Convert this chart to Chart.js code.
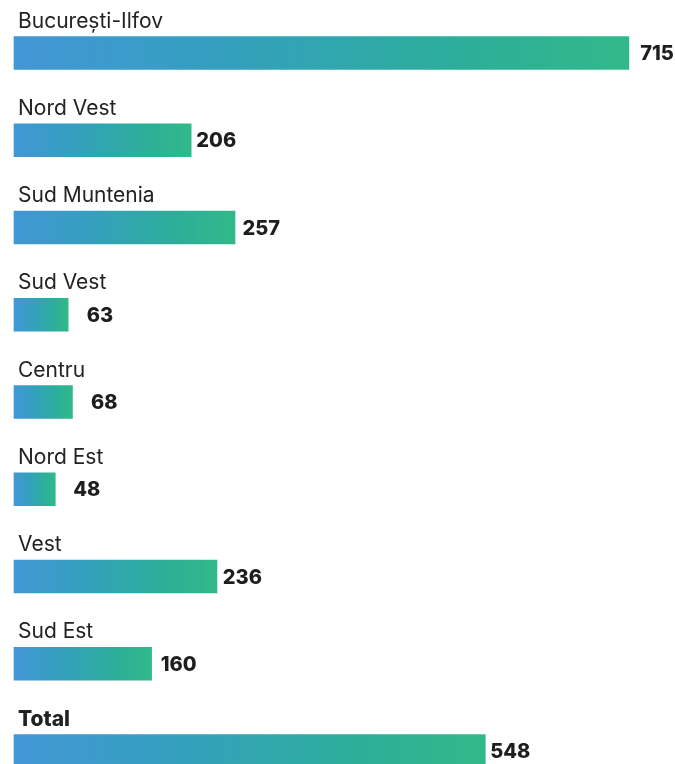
<!DOCTYPE html>
<html>
<head>
<meta charset="utf-8">
<script src="https://cdn.jsdelivr.net/npm/chart.js@4"></script>
<style>
    body { margin: 0; background: #ffffff; }
    canvas { display: block; }
</style>
</head>
<body>
<canvas id="chartRegions" width="675" height="764"></canvas>
<script>
// Regions and their values
var regions = ['București-Ilfov', 'Nord Vest', 'Sud Muntenia', 'Sud Vest', 'Centru', 'Nord Est', 'Vest', 'Sud Est', 'Total'];
var values = [715, 206, 257, 63, 68, 48, 236, 160, 548];

var labelFont = '"Inter", "Open Sans", sans-serif';

// Draws the region name above each bar and the value after it
var labelsPlugin = {
    id: 'labelsPlugin',
    afterDatasetsDraw: function(chart) {
        var ctx = chart.ctx;
        var meta = chart.getDatasetMeta(0);
        ctx.save();
        meta.data.forEach(function(bar, i) {
            var top = bar.y - bar.height / 2;
            ctx.fillStyle = '#222222';
            ctx.textAlign = 'left';
            ctx.textBaseline = 'alphabetic';
            ctx.font = (regions[i] === 'Total' ? '800 ' : '400 ') + '21px ' + labelFont;
            ctx.fillText(regions[i], 18, top - 9);

            ctx.fillStyle = '#1e1e1e';
            ctx.textAlign = 'right';
            ctx.textBaseline = 'middle';
            ctx.font = '800 20px ' + labelFont;
            ctx.fillText(values[i], bar.x + 45, bar.y + 1);
        });
        ctx.restore();
    }
};

var chartCanvas = document.querySelector('#chartRegions').getContext('2d');
var chart = new Chart(chartCanvas, {
    type: 'bar',
    data: {
        labels: regions,
        datasets: [{
            data: values,
            clip: false,
            barThickness: 33,
            backgroundColor: function(context) {
                var c = context.chart;
                var xScale = c.scales.x;
                if (!xScale || !c.chartArea) return '#36a2c0';
                var x0 = xScale.getPixelForValue(0);
                var x1 = xScale.getPixelForValue(values[context.dataIndex]);
                var g = c.ctx.createLinearGradient(x0, 0, x1, 0);
                g.addColorStop(0, '#4396d6');
                g.addColorStop(0.35, '#34a0be');
                g.addColorStop(0.75, '#2caf98');
                g.addColorStop(1, '#31b98a');
                return g;
            }
        }]
    },
    options: {
        indexAxis: 'y',
        responsive: false,
        animation: false,
        layout: { padding: { left: 14, right: 16, top: 53, bottom: 13 } },
        plugins: {
            legend: { display: false },
            tooltip: { enabled: false }
        },
        scales: {
            x: { display: false, min: 0, max: 750 },
            y: { display: false, offset: false }
        }
    },
    plugins: [labelsPlugin]
});
</script>
</body>
</html>
